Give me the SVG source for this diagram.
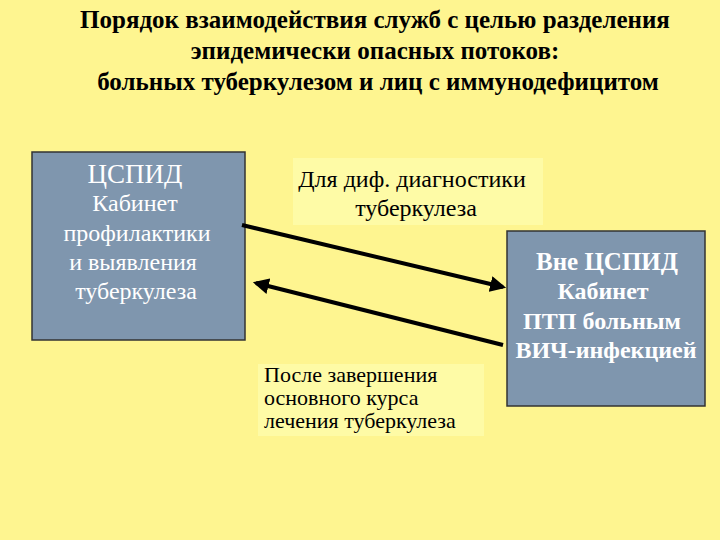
<svg xmlns="http://www.w3.org/2000/svg" width="720" height="540" viewBox="0 0 720 540">
<defs>
<style>
text{font-family:"Liberation Serif","Times New Roman","DejaVu Serif",serif;font-size:24px;text-anchor:middle}
.b{font-weight:bold}
.w{fill:#fff}
.s{text-anchor:start;font-size:22px}
.box{fill:#7f96ae;stroke:#333;stroke-width:1.5}
.lab{fill:#fefba6}
.c{stroke:#000;stroke-width:4;fill:none}
</style>
<marker id="ah" viewBox="0 0 10 10" refX="8" refY="5" markerWidth="4" markerHeight="4" orient="auto"><path d="M0,0L10,5L0,10Z" fill="#000"/></marker>
</defs>
<rect width="720" height="540" fill="#fef590"/>
<g id="title">
<text class="b" x="375" y="28" style="font-size:25px">Порядок взаимодействия служб с целью разделения</text>
<text class="b" x="375" y="59" style="font-size:25px">эпидемически опасных потоков:</text>
<text class="b" x="378" y="90" style="font-size:25px">больных туберкулезом  и лиц с иммунодефицитом</text>
</g>
<g id="n1"><rect class="box" x="32" y="152" width="213" height="188"/>
<text class="w" x="135" y="183" style="font-size:27px">ЦСПИД</text><text class="w" x="135" y="211">Кабинет</text><text class="w" x="137" y="241">профилактики</text><text class="w" x="133" y="270">и выявления</text><text class="w" x="136" y="299">туберкулеза</text></g>
<g id="n2"><rect class="box" x="507" y="231" width="198" height="175"/>
<text class="w b" x="607" y="270" style="font-size:25px">Вне ЦСПИД</text><text class="w b" x="603" y="299">Кабинет</text><text class="w b" x="602" y="329">ПТП больным</text><text class="w b" x="606" y="358">ВИЧ-инфекцией</text></g>
<g id="l1"><rect class="lab" x="293" y="158" width="250" height="67"/>
<text x="412" y="187">Для диф. диагностики</text><text x="416" y="216">туберкулеза</text></g>
<g id="l2"><rect class="lab" x="258" y="364" width="226" height="72"/>
<text class="s" x="264" y="382">После завершения</text><text class="s" x="264" y="405">основного курса</text><text class="s" x="264" y="428">лечения туберкулеза</text></g>
<g id="connectors">
<line class="c" x1="242" y1="225" x2="503" y2="287" marker-end="url(#ah)"/>
<line class="c" x1="503" y1="345" x2="256" y2="283" marker-end="url(#ah)"/>
</g>
</svg>
